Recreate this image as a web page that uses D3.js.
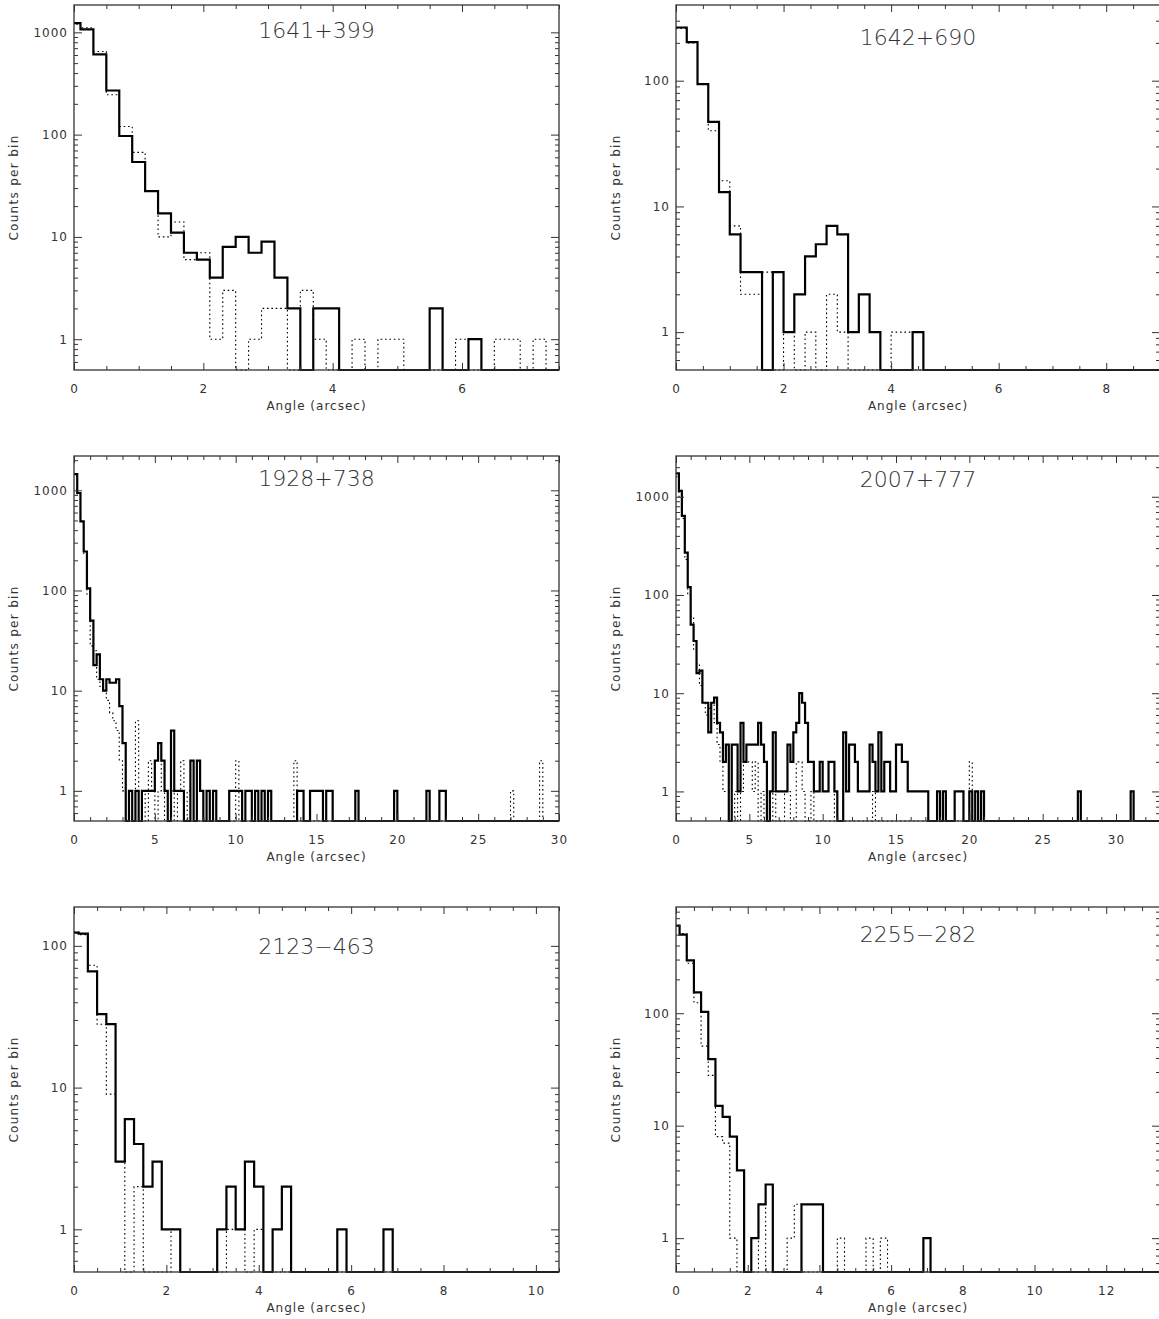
<!DOCTYPE html>
<html>
<head>
<meta charset="utf-8">
<script src="https://cdn.jsdelivr.net/npm/d3@7"></script>
<style>
  body { margin: 0; background: #fff; }
  svg text { font-family: "DejaVu Sans", "Liberation Sans", sans-serif; fill: #333; }
</style>
</head>
<body>
<svg id="fig" width="1159" height="1319"></svg>
<script>
// ---- source names ----
const sourceNames = ["1641+399", "1642+690", "1928+738", "2007+777", "2123\u2212463", "2255\u2212282"];

// ---- radial count histograms (counts per 0.2" bin); solid = source, dotted = PSF model ----
const p1Solid = [1230, 1070, 610, 270, 97, 54, 28, 17, 11, 7,
                 6, 4, 8, 10, 7, 9, 4, 2, 0, 2,
                 2, 0, 0, 0, 0, 0, 0, 0, 2, 0,
                 0, 1, 0, 0, 0, 0, 0, 0];
const p1Dotted = [1200, 1110, 650, 245, 120, 67, 28, 10, 14, 6,
                  7, 1, 3, 0, 1, 2, 2, 0, 3, 1,
                  0, 0, 1, 0, 1, 1, 0, 0, 0, 0,
                  1, 0, 0, 1, 1, 0, 1, 0];

const p2Solid = [265, 203, 94, 47, 13, 6, 3, 3, 0, 3,
                 1, 2, 4, 5, 7, 6, 1, 2, 1, 0,
                 0, 0, 1, 0, 0, 0, 0, 0, 0, 0,
                 0, 0, 0, 0, 0, 0, 0, 0, 0, 0,
                 0, 0, 0, 0, 0];
const p2Dotted = [260, 200, 95, 40, 16, 7, 2, 2, 3, 0,
                  1, 0, 1, 0, 2, 1, 0, 0, 0, 0,
                  1, 1, 0, 0, 0, 0, 0, 0, 0, 0,
                  0, 0, 0, 0, 0, 0, 0, 0, 0, 0,
                  0, 0, 0, 0, 0];

const p3Solid = [1450, 940, 490, 245, 105, 50, 18, 23, 13, 10,
                 13, 12, 12, 13, 7, 3, 0, 1, 0, 1,
                 0, 1, 1, 1, 1, 2, 3, 2, 1, 0,
                 4, 1, 1, 1, 0, 0, 2, 0, 2, 1,
                 0, 1, 0, 1, 0, 0, 0, 0, 1, 1,
                 1, 1, 0, 1, 1, 0, 1, 0, 1, 0,
                 1, 0, 0, 0, 0, 0, 0, 0, 0, 1,
                 1, 0, 0, 1, 1, 1, 1, 0, 1, 1,
                 0, 0, 0, 0, 0, 0, 0, 1, 0, 0,
                 0, 0, 0, 0, 0, 0, 0, 0, 0, 1,
                 0, 0, 0, 0, 0, 0, 0, 0, 0, 1,
                 0, 0, 0, 1, 1, 0, 0, 0, 0, 0,
                 0, 0, 0, 0, 0, 0, 0, 0, 0, 0,
                 0, 0, 0, 0, 0, 0, 0, 0, 0, 0,
                 0, 0, 0, 0, 0, 0, 0, 0, 0, 0];
const p3Dotted = [1450, 900, 480, 230, 90, 28, 25, 13, 11, 10,
                  8, 6, 5, 4, 2, 1, 0, 0, 0, 5,
                  0, 1, 0, 2, 1, 0, 1, 2, 0, 0,
                  1, 0, 1, 2, 0, 1, 0, 0, 0, 0,
                  0, 0, 0, 0, 0, 0, 0, 0, 0, 0,
                  2, 0, 0, 0, 0, 0, 0, 0, 0, 0,
                  0, 0, 0, 0, 0, 0, 0, 0, 2, 0,
                  0, 0, 0, 0, 0, 0, 0, 0, 0, 0,
                  0, 0, 0, 0, 0, 0, 0, 0, 0, 0,
                  0, 0, 0, 0, 0, 0, 0, 0, 0, 0,
                  0, 0, 0, 0, 0, 0, 0, 0, 0, 0,
                  0, 0, 0, 0, 0, 0, 0, 0, 0, 0,
                  0, 0, 0, 0, 0, 0, 0, 0, 0, 0,
                  0, 0, 0, 0, 0, 1, 0, 0, 0, 0,
                  0, 0, 0, 0, 2, 0, 0, 0, 0, 0];

const p4Solid = [1730, 1150, 640, 270, 120, 50, 34, 16, 17, 8,
                 8, 4, 8, 9, 5, 4, 2, 3, 0, 3,
                 3, 1, 5, 2, 3, 3, 3, 3, 5, 3,
                 2, 0, 1, 4, 1, 1, 1, 1, 3, 2,
                 4, 5, 10, 8, 5, 2, 2, 1, 1, 2,
                 1, 1, 2, 2, 1, 0, 0, 4, 1, 3,
                 3, 2, 1, 1, 1, 1, 3, 2, 1, 4,
                 1, 2, 2, 1, 1, 3, 3, 2, 2, 1,
                 1, 1, 1, 1, 1, 1, 0, 0, 0, 1,
                 0, 1, 0, 0, 0, 1, 1, 1, 0, 0,
                 1, 0, 1, 0, 1, 0, 0, 0, 0, 0,
                 0, 0, 0, 0, 0, 0, 0, 0, 0, 0,
                 0, 0, 0, 0, 0, 0, 0, 0, 0, 0,
                 0, 0, 0, 0, 0, 0, 0, 1, 0, 0,
                 0, 0, 0, 0, 0, 0, 0, 0, 0, 0,
                 0, 0, 0, 0, 0, 1, 0, 0, 0, 0,
                 0, 0, 0, 0, 0];
const p4Dotted = [1600, 1000, 600, 230, 100, 60, 28, 20, 12, 8,
                  6, 7, 8, 5, 3, 2, 1, 1, 0, 0,
                  1, 0, 1, 2, 2, 2, 1, 2, 0, 1,
                  0, 0, 0, 1, 0, 0, 0, 1, 1, 0,
                  0, 2, 2, 1, 0, 0, 1, 0, 0, 0,
                  0, 0, 0, 0, 1, 0, 0, 0, 0, 0,
                  0, 0, 0, 0, 0, 0, 0, 1, 0, 0,
                  0, 0, 0, 0, 0, 0, 0, 0, 0, 0,
                  0, 0, 0, 0, 0, 0, 0, 0, 0, 0,
                  0, 0, 0, 0, 0, 0, 0, 0, 0, 0,
                  2, 0, 0, 0, 0, 0, 0, 0, 0, 0,
                  0, 0, 0, 0, 0, 0, 0, 0, 0, 0,
                  0, 0, 0, 0, 0, 0, 0, 0, 0, 0,
                  0, 0, 0, 0, 0, 0, 0, 0, 0, 0,
                  0, 0, 0, 0, 0, 0, 0, 0, 0, 0,
                  0, 0, 0, 0, 0, 0, 0, 0, 0, 0,
                  0, 0, 0, 0, 0];

const p5Solid = [124, 122, 66, 33, 28, 3, 6, 4, 2, 3,
                 1, 1, 0, 0, 0, 0, 1, 2, 1, 3,
                 2, 0, 1, 2, 0, 0, 0, 0, 0, 1,
                 0, 0, 0, 0, 1, 0, 0, 0, 0, 0,
                 0, 0, 0, 0, 0, 0, 0, 0, 0, 0,
                 0, 0, 0];
const p5Dotted = [125, 120, 73, 28, 9, 3, 0, 2, 0, 0,
                  0, 1, 0, 0, 0, 0, 0, 1, 1, 0,
                  1, 0, 0, 0, 0, 0, 0, 0, 0, 0,
                  0, 0, 0, 0, 0, 0, 0, 0, 0, 0,
                  0, 0, 0, 0, 0, 0, 0, 0, 0, 0,
                  0, 0, 0];

const p6Solid = [600, 500, 295, 153, 103, 39, 15, 12, 8, 4,
                 0, 1, 2, 3, 0, 0, 0, 0, 2, 2,
                 2, 0, 0, 0, 0, 0, 0, 0, 0, 0,
                 0, 0, 0, 0, 0, 1, 0, 0, 0, 0,
                 0, 0, 0, 0, 0, 0, 0, 0, 0, 0,
                 0, 0, 0, 0, 0, 0, 0, 0, 0, 0,
                 0, 0, 0, 0, 0, 0, 0, 0];
const p6Dotted = [600, 510, 278, 124, 51, 28, 8, 7, 1, 0,
                  0, 0, 2, 0, 0, 0, 1, 2, 0, 0,
                  0, 0, 0, 1, 0, 0, 0, 1, 0, 1,
                  0, 0, 0, 0, 0, 0, 0, 0, 0, 0,
                  0, 0, 0, 0, 0, 0, 0, 0, 0, 0,
                  0, 0, 0, 0, 0, 0, 0, 0, 0, 0,
                  0, 0, 0, 0, 0, 0, 0, 0];

// ---- binning and axis ranges per panel ----
const binStart   = [-0.1, 0, 0, 0, -0.1, -0.1];   // left edge of first bin (arcsec)
const binWidth   = [0.2, 0.2, 0.2, 0.2, 0.2, 0.2];
const xMax       = [7.5, 9, 30, 33, 10.5, 13.5];
const xMajorStep = [2, 2, 5, 5, 2, 2];
const xMinorStep = [0.5, 0.5, 1, 1, 0.5, 0.5];
const yMin = 0.5;
const yMax       = [1850, 400, 2200, 2600, 188, 880];
const yTickLabels = [[1, 10, 100, 1000], [1, 10, 100], [1, 10, 100, 1000], [1, 10, 100, 1000], [1, 10, 100], [1, 10, 100]];

const solidSeries  = [p1Solid, p2Solid, p3Solid, p4Solid, p5Solid, p6Solid];
const dottedSeries = [p1Dotted, p2Dotted, p3Dotted, p4Dotted, p5Dotted, p6Dotted];

const xTitle = "Angle (arcsec)";
const yTitle = "Counts per bin";

// ---- page layout ----
const colLeft = [74, 676];
const colWidth = [485, 484];
const rowTop = [5, 456, 907];
const plotH = 365;
const titleBaseline = [33, 40, 30, 31, 47, 35];

const svg = d3.select("#fig");

function stepPoints(vals, start, w) {
  const pts = vals.map((v, k) => ({ x: start + k * w, v }));
  pts.push({ x: start + vals.length * w, v: vals[vals.length - 1] });
  return pts;
}

sourceNames.forEach((name, i) => {
  const col = i % 2, row = Math.floor(i / 2);
  const L = colLeft[col], T = rowTop[row], W = colWidth[col], H = plotH;

  const x = d3.scaleLinear().domain([0, xMax[i]]).range([0, W]);
  const y = d3.scaleLog().domain([yMin, yMax[i]]).range([H, 0]);

  const g = svg.append("g").attr("transform", `translate(${L},${T})`);

  const clipId = "plotclip" + i;
  g.append("clipPath").attr("id", clipId)
    .append("rect").attr("x", 0).attr("y", -1).attr("width", W).attr("height", H + 2.2);

  const line = d3.line()
    .x(d => x(d.x))
    .y(d => y(Math.max(d.v, yMin)))
    .curve(d3.curveStepAfter);

  const marks = g.append("g").attr("clip-path", `url(#${clipId})`);
  marks.append("path")
    .datum(stepPoints(dottedSeries[i], binStart[i], binWidth[i]))
    .attr("d", line)
    .attr("fill", "none").attr("stroke", "#000")
    .attr("stroke-width", 1.1).attr("stroke-dasharray", "1.6 2.8");
  marks.append("path")
    .datum(stepPoints(solidSeries[i], binStart[i], binWidth[i]))
    .attr("d", line)
    .attr("fill", "none").attr("stroke", "#000")
    .attr("stroke-width", 2.2).attr("stroke-linejoin", "miter");

  // ticks
  const xMajor = d3.range(0, xMax[i] + 1e-9, xMajorStep[i]);
  const xMinor = d3.range(0, xMax[i] + 1e-9, xMinorStep[i])
    .filter(v => !xMajor.some(m => Math.abs(m - v) < 1e-9));
  const yMinor = [];
  [0.1, 1, 10, 100, 1000].forEach(d => {
    for (let m = 2; m <= 9; m++) {
      const v = m * d;
      if (v > yMin && v < yMax[i]) yMinor.push(v);
    }
  });

  const styleAxis = sel => {
    sel.select(".domain").remove();
    sel.selectAll(".tick line").attr("stroke", "#333").attr("stroke-width", 1);
    sel.selectAll("text").attr("font-size", 12).attr("letter-spacing", 1).attr("fill", "#333");
  };

  g.append("g").attr("transform", `translate(0,${H})`)
    .call(d3.axisBottom(x).tickValues(xMajor).tickSize(-7).tickPadding(14).tickFormat(d3.format("d")))
    .call(styleAxis);
  g.append("g").attr("transform", `translate(0,${H})`)
    .call(d3.axisBottom(x).tickValues(xMinor).tickSize(-4).tickFormat(""))
    .call(styleAxis);
  g.append("g")
    .call(d3.axisTop(x).tickValues(xMajor).tickSize(-7).tickFormat(""))
    .call(styleAxis);
  g.append("g")
    .call(d3.axisTop(x).tickValues(xMinor).tickSize(-4).tickFormat(""))
    .call(styleAxis);

  g.append("g")
    .call(d3.axisLeft(y).tickValues(yTickLabels[i]).tickSize(-8).tickPadding(6).tickFormat(d3.format("d")))
    .call(styleAxis);
  g.append("g")
    .call(d3.axisLeft(y).tickValues(yMinor).tickSize(-4).tickFormat(""))
    .call(styleAxis);
  g.append("g").attr("transform", `translate(${W},0)`)
    .call(d3.axisRight(y).tickValues(yTickLabels[i]).tickSize(-8).tickFormat(""))
    .call(styleAxis);
  g.append("g").attr("transform", `translate(${W},0)`)
    .call(d3.axisRight(y).tickValues(yMinor).tickSize(-4).tickFormat(""))
    .call(styleAxis);

  // frame
  g.append("rect").attr("width", W).attr("height", H)
    .attr("fill", "none").attr("stroke", "#333").attr("stroke-width", 1.3);

  // labels
  g.append("text")
    .attr("x", W / 2).attr("y", H + 40)
    .attr("text-anchor", "middle").attr("font-size", 12).attr("letter-spacing", 1)
    .text(xTitle);
  g.append("text")
    .attr("transform", `translate(-56,${H / 2}) rotate(-90)`)
    .attr("text-anchor", "middle").attr("font-size", 12).attr("letter-spacing", 1.3)
    .text(yTitle);
  g.append("text")
    .attr("x", W / 2).attr("y", titleBaseline[i])
    .attr("text-anchor", "middle").attr("font-size", 22).attr("font-weight", 200)
    .attr("fill", "#444")
    .text(name);
});
</script>
</body>
</html>
